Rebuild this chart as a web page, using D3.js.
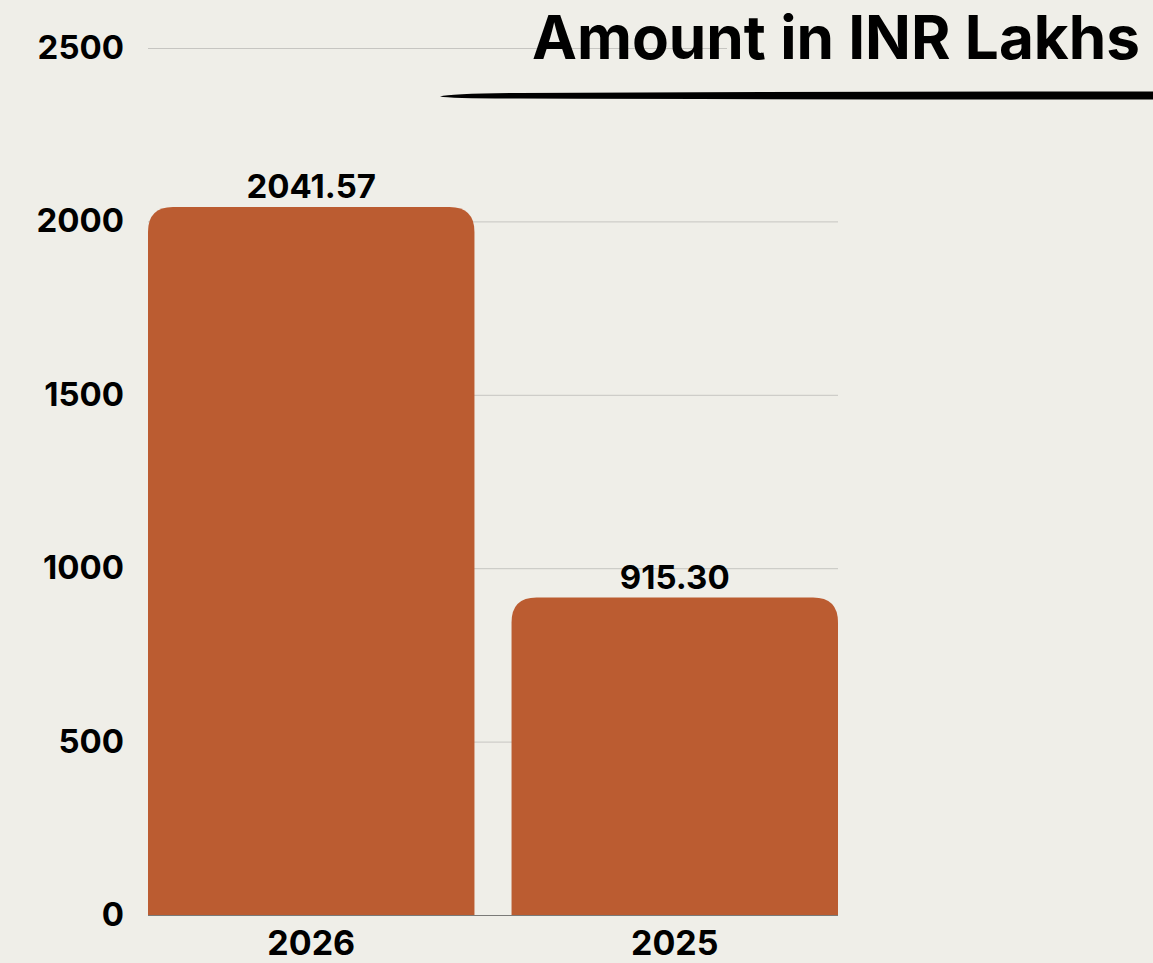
<!DOCTYPE html>
<html>
<head>
<meta charset="utf-8">
<script src="https://cdn.jsdelivr.net/npm/d3@7"></script>
<style>
  html, body { margin: 0; padding: 0; background: #efeee8; }
  svg { display: block; }
  text { font-family: Inter, "Liberation Sans", sans-serif; font-weight: 700; fill: #000; }
</style>
</head>
<body>
<div class="bar-chart-container"></div>
<script>
// amounts per year, in INR lakhs
const years = ['2026', '2025'];
const amounts = [2041.57, 915.30];
const amount_labels = ['2041.57', '915.30'];
const y_ticks = [0, 500, 1000, 1500, 2000, 2500];
const chart_title = 'Amount in INR Lakhs';

const bar_color = '#bb5c31';
const bg_color = '#efeee8';

function build_container(width, height) {
   return d3.select('.bar-chart-container')
      .append('svg')
      .attr('width', width)
      .attr('height', height)
      .style('background', bg_color);
}

// rect with only the top corners rounded
function top_rounded(x, y, w, h, r) {
   r = Math.min(r, h, w / 2);
   return `M${x},${y + h}V${y + r}Q${x},${y} ${x + r},${y}` +
      `H${x + w - r}Q${x + w},${y} ${x + w},${y + r}V${y + h}Z`;
}

function bar_chart_main() {
   const width = 1153, height = 963;
   const plot = {left: 148, right: 838, top: 48, bottom: 915};

   const svg = build_container(width, height);

   const x_scale = d3.scaleBand()
      .domain(years)
      .range([plot.left, plot.right])
      .paddingInner(0.102)
      .paddingOuter(0);

   const y_scale = d3.scaleLinear()
      .domain([0, 2500])
      .range([plot.bottom, plot.top]);

   // grid lines
   const y_axis = d3.axisLeft(y_scale)
      .tickValues(y_ticks)
      .tickSizeInner(-(plot.right - plot.left))
      .tickSizeOuter(0)
      .tickPadding(24)
      .tickFormat(d3.format('d'));

   const y_axis_g = svg.append('g')
      .attr('class', 'y axis')
      .attr('transform', `translate(${plot.left},0)`)
      .call(y_axis);
   y_axis_g.select('.domain').remove();
   y_axis_g.selectAll('.tick line')
      .attr('stroke-width', 1)
      .attr('stroke', (d) => d === 0 ? '#7a7a78' : '#c6c5c1');
   y_axis_g.selectAll('.tick text')
      .attr('x', 124 - plot.left)
      .style('font-size', '33px')
      .style('font-family', 'Inter, "Liberation Sans", sans-serif')
      .style('font-weight', 700)
      .attr('fill', '#000');

   // the title sits on a plain patch that hides the top grid line
   svg.append('rect')
      .attr('x', 727).attr('y', 30)
      .attr('width', width - 727).attr('height', 40)
      .attr('fill', bg_color);

   // bars
   const bar_data = years.map((y, i) => ({year: y, value: amounts[i], label: amount_labels[i]}));

   svg.append('g')
      .attr('class', 'bars')
      .selectAll('path')
      .data(bar_data)
      .enter()
      .append('path')
      .attr('d', d => top_rounded(x_scale(d.year), y_scale(d.value),
         x_scale.bandwidth(), y_scale(0) - y_scale(d.value), 25))
      .attr('fill', bar_color);

   // value labels over the bars
   svg.append('g')
      .selectAll('text')
      .data(bar_data)
      .enter()
      .append('text')
      .attr('x', d => x_scale(d.year) + x_scale.bandwidth() / 2)
      .attr('y', d => y_scale(d.value) - 9)
      .attr('text-anchor', 'middle')
      .style('font-size', '33px')
      .text(d => d.label);

   // x axis labels
   const x_axis = d3.axisBottom(x_scale).tickSize(0).tickPadding(0);
   const x_axis_g = svg.append('g')
      .attr('transform', `translate(0,${plot.bottom})`)
      .call(x_axis);
   x_axis_g.select('.domain').remove();
   x_axis_g.selectAll('.tick text')
      .attr('y', 40)
      .attr('dy', null)
      .style('font-size', '34px')
      .style('font-family', 'Inter, "Liberation Sans", sans-serif')
      .style('font-weight', 700)
      .attr('fill', '#000');

   // title and brush stroke under it
   svg.append('text')
      .attr('x', 1140)
      .attr('y', 59)
      .attr('text-anchor', 'end')
      .attr('textLength', 608)
      .attr('lengthAdjust', 'spacingAndGlyphs')
      .style('font-size', '60px')
      .text(chart_title);

   svg.append('path')
      .attr('d', 'M440,96.5 Q450,93.5 520,93 Q800,91.5 1153,91.5 L1153,99.5 Q800,99.5 520,98.5 Q450,98.5 440,96.5 Z')
      .attr('fill', '#000');
}

bar_chart_main();
</script>
</body>
</html>
